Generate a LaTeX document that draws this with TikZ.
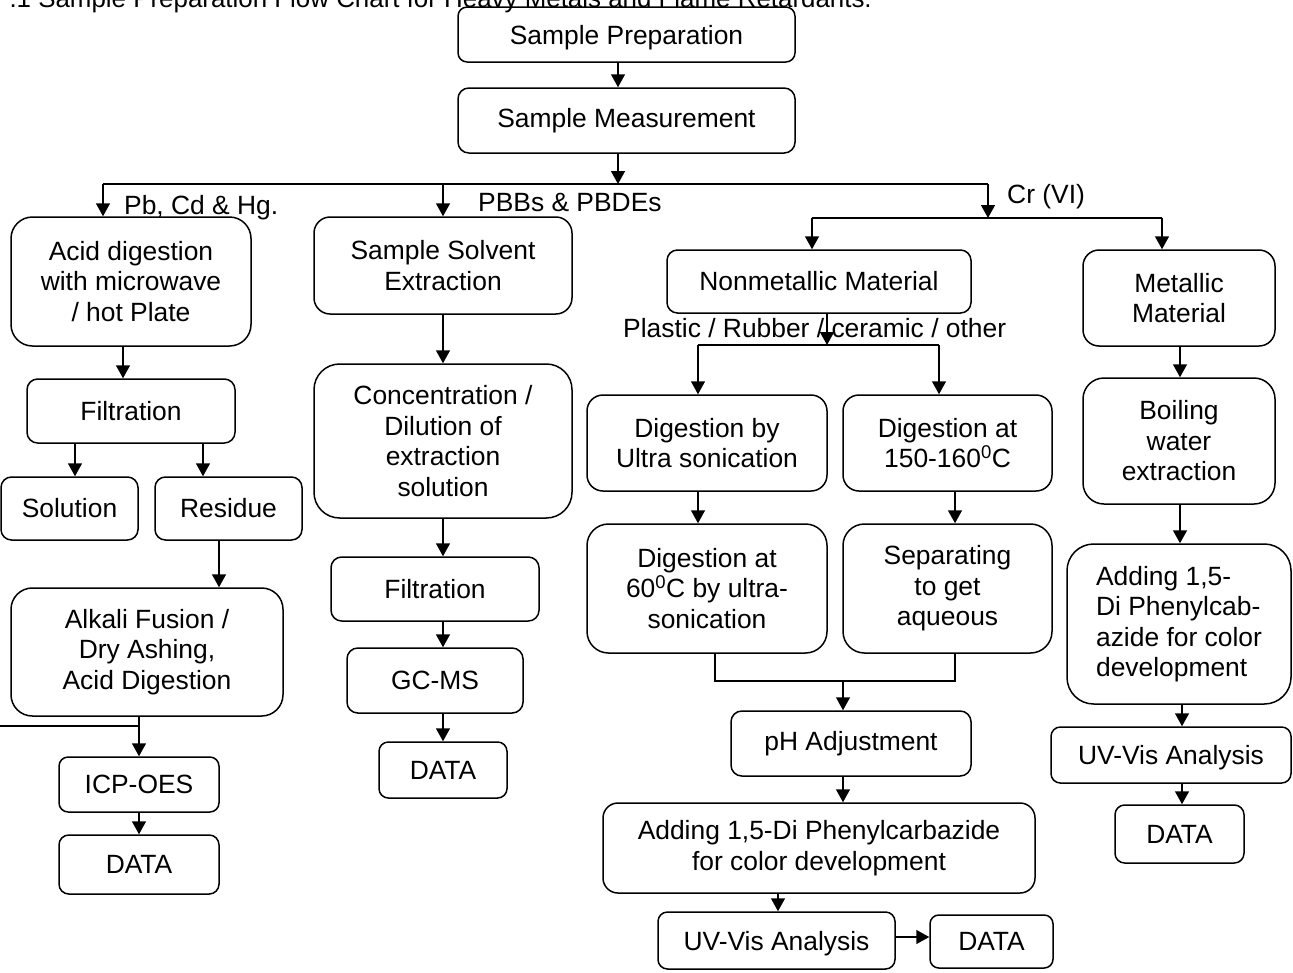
\documentclass[tikz,border=0pt]{standalone}
\usepackage{fontspec}
\setmainfont{Liberation Sans}
\usetikzlibrary{arrows.meta}
\newcommand\mkbox[7][]{%
  \pgfmathsetmacro\bw{#5-#3}%
  \pgfmathsetmacro\bh{#6-#4}%
  \pgfmathsetmacro\br{0.1667*min(\bw,\bh)}%
  \node[box,minimum width=\bw pt,minimum height=\bh pt,rounded corners=\br pt,#1] (#2) at ({(#3+#5)/2},{(#4+#6)/2}) {#7};}
\begin{document}
\begin{tikzpicture}[x=1pt,y=-1pt,
  every node/.style={font=\fontsize{26.4}{30.5}\selectfont, inner sep=0pt},
  box/.style={draw, line width=1.5pt, align=center},
  arr/.style={line width=1.5pt, -{Triangle[length=13pt,width=14pt]}},
  ln/.style={line width=1.5pt}]
\useasboundingbox (0,0) rectangle (1293,972);

% title (cut at top)
\node[anchor=base east, font=\fontsize{25.9}{30}\selectfont] (title) at (872,7) {.1 Sample Preparation Flow Chart for Heavy Metals and Flame Retardants.};

% boxes
\mkbox[text depth=0pt]{sp}{458}{7}{795}{62}{Sample Preparation}
\mkbox{sm}{458}{88}{795}{153}{Sample Measurement}
\mkbox{acid}{11}{217}{251}{346}{Acid digestion\\with microwave\\/ hot Plate}
\mkbox{filtA}{27}{379}{235}{443}{Filtration}
\mkbox{sol}{1}{477}{138}{540}{Solution}
\mkbox{res}{155}{477}{302}{540}{Residue}
\mkbox{alk}{11}{588}{283}{716}{Alkali Fusion /\\Dry Ashing,\\Acid Digestion}
\mkbox{icp}{59}{757}{219}{812}{ICP-OES}
\mkbox{dataA}{59}{835}{219}{894}{DATA}
\mkbox{sse}{314}{217}{572}{314}{Sample Solvent\\Extraction}
\mkbox{conc}{314}{364}{572}{518}{Concentration /\\Dilution of\\extraction\\solution}
\mkbox{filtB}{331}{557}{539}{621}{Filtration}
\mkbox{gcms}{347}{648}{523}{713}{GC-MS}
\mkbox{dataB}{379}{742}{507}{798}{DATA}
\mkbox{nonm}{667}{250}{971}{313}{Nonmetallic Material}
\mkbox{dus}{587}{395}{827}{491}{Digestion by\\Ultra sonication}
\mkbox{dhot}{843}{395}{1052}{491}{Digestion at\\150-160\textsuperscript{0}C}
\mkbox{dsix}{587}{524}{827}{653}{Digestion at\\60\textsuperscript{0}C by ultra-\\sonication}
\mkbox{sep}{843}{524}{1052}{653}{Separating\\to get\\aqueous}
\mkbox{ph}{731}{711}{971}{776}{pH Adjustment}
\mkbox{addA}{603}{803}{1035}{893}{Adding 1,5-Di Phenylcarbazide\\for color development}
\mkbox[text depth=0pt]{uvA}{658}{912}{895}{969}{UV-Vis Analysis}
\mkbox{dataC}{930}{915}{1053}{968}{DATA}
\mkbox{met}{1083}{250}{1275}{346}{Metallic\\Material}
\mkbox{boil}{1083}{378}{1275}{504}{Boiling\\water\\extraction}
\mkbox[align=left]{addB}{1067}{544}{1291}{704}{Adding 1,5-\\Di Phenylcab-\\azide for color\\development}
\mkbox[text depth=0pt]{uvB}{1051}{727}{1291}{783}{UV-Vis Analysis}
\mkbox{dataD}{1115}{805}{1244}{863}{DATA}

% labels
\node[anchor=base west] (lbPb) at (124,214) {Pb, Cd \& Hg.};
\node[anchor=base west] (lbPB) at (478,211) {PBBs \& PBDEs};
\node[anchor=base west] (lbCr) at (1007,203) {Cr (VI)};
\node[anchor=base west] (lbPl) at (623,337) {Plastic / Rubber / ceramic / other};

% junction coordinates
\coordinate (busM) at (618,184);
\coordinate (busL) at (103,184);
\coordinate (busP) at (443,184);
\coordinate (busR) at (988,184);
\coordinate (crT) at (988,218);
\coordinate (crL) at (812,218);
\coordinate (crR) at (1162,218);
\coordinate (plM) at (827,345);
\coordinate (plL) at (698,345);
\coordinate (plR) at (939,345);
\coordinate (jL) at (715,681);
\coordinate (jR) at (955,681);
\coordinate (jM) at (843,681);
\coordinate (jA) at (139,726);
\coordinate (offL) at (0,726);

% top
\draw[arr] (618,0 |- sp.south) -- (618,0 |- sm.north);
\draw[arr] (618,0 |- sm.south) -- (busM);
\draw[ln] (busL) -- (busR);
\draw[arr] (busL) -- (busL |- acid.north);
\draw[arr] (busP) -- (busP |- sse.north);

% left column
\draw[arr] (123,0 |- acid.south) -- (123,0 |- filtA.north);
\draw[arr] (75,0 |- filtA.south) -- (75,0 |- sol.north);
\draw[arr] (203,0 |- filtA.south) -- (203,0 |- res.north);
\draw[arr] (219,0 |- res.south) -- (219,0 |- alk.north);
\draw[ln] (offL) -- (jA);
\draw[arr] (139,0 |- alk.south) -- (139,0 |- icp.north);
\draw[arr] (139,0 |- icp.south) -- (139,0 |- dataA.north);

% middle column
\draw[arr] (443,0 |- sse.south) -- (443,0 |- conc.north);
\draw[arr] (443,0 |- conc.south) -- (443,0 |- filtB.north);
\draw[arr] (443,0 |- filtB.south) -- (443,0 |- gcms.north);
\draw[arr] (443,0 |- gcms.south) -- (443,0 |- dataB.north);

% Cr (VI)
\draw[arr] (busR) -- (crT);
\draw[ln] (crL) -- (crR);
\draw[arr] (crL) -- (crL |- nonm.north);
\draw[arr] (crR) -- (crR |- met.north);

% nonmetallic branch
\draw[arr] (plM |- nonm.south) -- (plM);
\draw[ln] (plL) -- (plR);
\draw[arr] (plL) -- (plL |- dus.north);
\draw[arr] (plR) -- (plR |- dhot.north);
\draw[arr] (698,0 |- dus.south) -- (698,0 |- dsix.north);
\draw[arr] (955,0 |- dhot.south) -- (955,0 |- sep.north);
\draw[ln] (jL |- dsix.south) -- (jL) -- (jR) -- (jR |- sep.south);
\draw[arr] (jM) -- (jM |- ph.north);
\draw[arr] (843,0 |- ph.south) -- (843,0 |- addA.north);
\draw[arr] (778,0 |- addA.south) -- (778,0 |- uvA.north);
\draw[arr] (uvA.east |- 0,937) -- (dataC.west |- 0,937);

% metallic branch
\draw[arr] (1180,0 |- met.south) -- (1180,0 |- boil.north);
\draw[arr] (1180,0 |- boil.south) -- (1180,0 |- addB.north);
\draw[arr] (1182,0 |- addB.south) -- (1182,0 |- uvB.north);
\draw[arr] (1182,0 |- uvB.south) -- (1182,0 |- dataD.north);
\end{tikzpicture}
\end{document}
